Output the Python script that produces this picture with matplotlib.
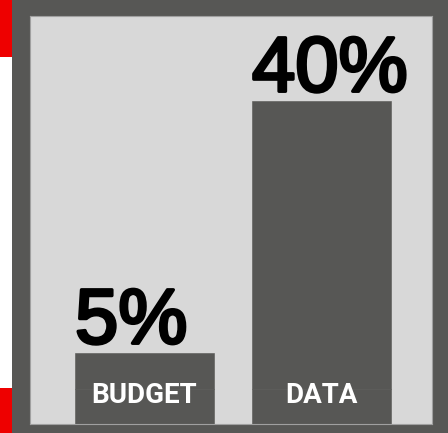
import matplotlib
matplotlib.use("Agg")
import matplotlib.pyplot as plt
import matplotlib.patheffects as pe
from matplotlib.patches import Rectangle

# data
categories = ["BUDGET", "DATA"]
values = [5, 40]
value_labels = ["5%", "40%"]

DARK = "#575755"
PANEL = "#d8d8d8"
RED = "#ee0000"
band = 4.86      # fixed label band at foot of each bar (data units)
bar_w = 0.785

W, H = 448, 433
fig = plt.figure(figsize=(W / 100, H / 100), dpi=100)
fig.patch.set_facecolor("white")

# frame + red tabs
fig.patches.append(Rectangle((12 / W, 0), 1 - 12 / W, 1.01, transform=fig.transFigure,
                             facecolor=DARK, edgecolor="none", zorder=-2))
fig.patches.append(Rectangle((0, 1 - 57 / H), 12 / W, 57 / H, transform=fig.transFigure,
                             facecolor=RED, edgecolor="none", zorder=-2))
fig.patches.append(Rectangle((0, -0.01), 12 / W, 45 / H + 0.01, transform=fig.transFigure,
                             facecolor=RED, edgecolor="none", zorder=-2))

ax = fig.add_axes([30 / W, 9 / H, 402 / W, 408 / H])
ax.set_zorder(1)
ax.set_facecolor(PANEL)

x = list(range(len(categories)))
# label band + value part share one colour, so stack them
ax.bar(x, [band] * len(x), width=bar_w, color=DARK, edgecolor=DARK, linewidth=0.4)
ax.bar(x, values, bottom=band - 0.05, width=bar_w, color=DARK, edgecolor=DARK, linewidth=0.4)

thick = [pe.withStroke(linewidth=2.4, foreground="black")]
for xi, v, lab, cat in zip(x, values, value_labels, categories):
    ax.annotate(lab, (xi - bar_w / 2, band + v), xytext=(0, 7), textcoords="offset points",
                ha="left", va="baseline", fontsize=56, color="black",
                family="Liberation Sans", path_effects=thick)
    ax.annotate(cat, (xi, 0), xytext=(0, 15), textcoords="offset points",
                ha="center", va="baseline", fontsize=20, color="white",
                family="Roboto", fontweight="bold")

ax.set_xlim(-0.6469, 1.6243)
ax.set_ylim(0, 408 / 7.2)
ax.set_xticks([])
ax.set_yticks([])
for s in ax.spines.values():
    s.set_color("#a0a0a0")
    s.set_linewidth(0.8)

fig.savefig("out.png", dpi=100)
